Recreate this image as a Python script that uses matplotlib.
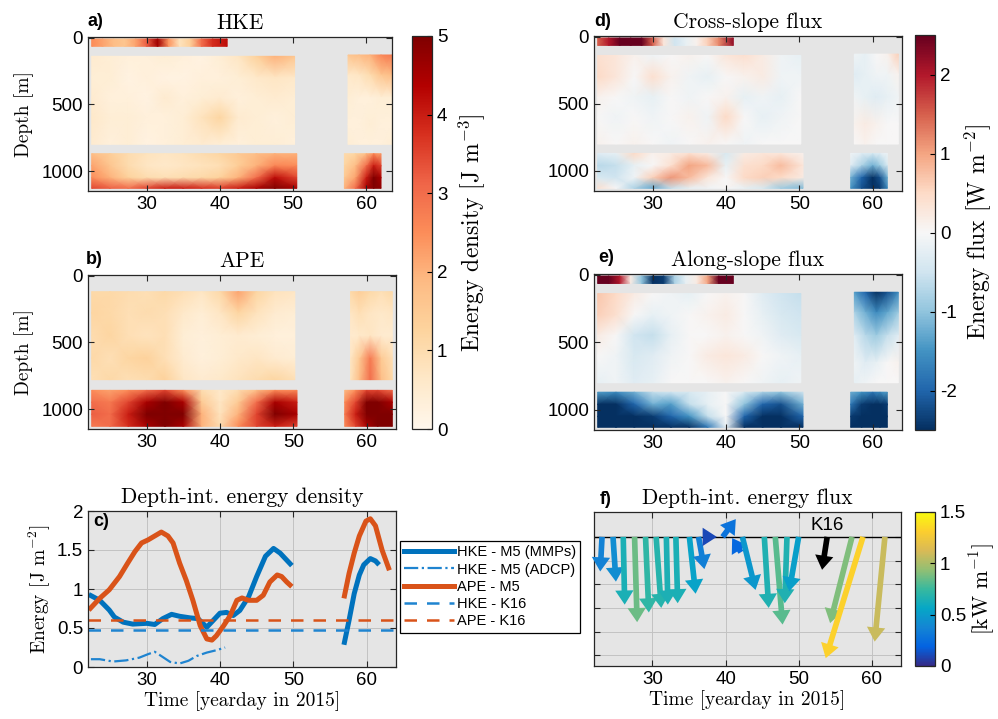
import numpy as np
import matplotlib
matplotlib.use('Agg')
import matplotlib.pyplot as plt
from matplotlib.colors import LinearSegmentedColormap, Normalize
from matplotlib.cm import ScalarMappable
from matplotlib.lines import Line2D

plt.rcParams['font.family'] = ['Liberation Sans', 'DejaVu Sans']
plt.rcParams['mathtext.fontset'] = 'cm'
plt.rcParams['axes.unicode_minus'] = False

# ---------------- sections: time / depth coordinates ----------------
t_adcp = [22.5, 24, 25.5, 27, 28.5, 30, 31.5, 33, 34.5, 36, 37.5, 39, 41]
z_adcp = [10, 65]
t_up = [22.5, 25, 27.5, 30, 32.5, 35, 37.5, 40, 42.5, 45, 47.5, 50.2]
t_lo = [22.5, 25, 27.5, 30, 32.5, 35, 37.5, 40, 42.5, 45, 47.5, 50.5]
z_up = [140, 300, 450, 600, 800]
z_lo = [870, 960, 1050, 1130]
t_up2 = [57.5, 59, 60.5, 62, 63.5]
z_up2 = [130, 280, 450, 650, 800]
t_lo2 = [57, 58.5, 60, 61, 62]
# APE sections (MMP only)
z_up_ape = [120, 280, 450, 620, 780]
z_lo_ape = [860, 950, 1040, 1130]
t_up2_ape = [57.8, 59, 60.5, 62, 63.5]
t_lo2_ape = [57, 58.5, 60, 61.5, 63.5]

# ---------------- HKE [J m-3] ----------------
hke_adcp = [2.5, 2.2, 1.8, 1.6, 2.2, 3.2, 4.6, 2.4, 0.8, 1.4, 3.0, 3.8, 4.2]
hke_up = [[0.5, 0.4, 0.3, 0.3, 0.4, 0.3, 0.2, 0.4, 0.7, 1.3, 2.0, 1.6],
          [0.4, 0.4, 0.2, 0.3, 0.2, 0.2, 0.3, 0.3, 0.4, 0.6, 0.7, 0.6],
          [0.5, 0.3, 0.3, 0.2, 0.5, 0.3, 0.4, 0.5, 0.3, 0.4, 0.5, 0.4],
          [0.6, 0.4, 0.4, 0.3, 0.3, 0.4, 0.8, 1.2, 0.5, 0.4, 0.3, 0.4],
          [0.5, 0.3, 0.4, 0.2, 0.3, 0.4, 0.5, 0.4, 0.3, 0.4, 0.4, 0.3]]
hke_lo = [[1.8, 1.4, 1.0, 0.8, 0.7, 0.8, 1.0, 1.2, 1.5, 1.8, 2.0, 2.0],
          [2.2, 1.6, 1.0, 0.7, 0.6, 0.7, 0.8, 0.9, 1.4, 2.0, 2.6, 2.5],
          [2.5, 2.0, 1.3, 1.0, 0.9, 1.0, 1.1, 1.3, 2.0, 3.0, 4.2, 3.5],
          [3.5, 3.2, 3.0, 3.5, 4.0, 4.0, 3.8, 3.6, 4.0, 4.5, 5.0, 4.5]]
hke_up2 = [[1.6, 1.8, 2.0, 2.6, 2.8],
           [0.6, 0.7, 1.0, 1.6, 1.8],
           [0.4, 0.3, 0.3, 0.4, 0.4],
           [0.3, 0.3, 0.4, 0.3, 0.3],
           [0.4, 0.3, 0.3, 0.3, 0.4]]
hke_lo2 = [[1.0, 1.2, 1.8, 2.5, 2.2],
           [1.2, 1.8, 3.0, 4.0, 3.5],
           [1.5, 2.2, 4.0, 5.0, 4.5],
           [2.0, 3.0, 4.5, 5.0, 4.8]]

# ---------------- APE [J m-3] ----------------
ape_up = [[1.1, 1.1, 1.0, 0.9, 1.1, 0.9, 0.7, 1.1, 2.2, 1.2, 0.8, 0.7],
          [1.2, 1.1, 0.9, 1.0, 0.9, 0.6, 0.4, 0.7, 1.2, 0.8, 0.5, 0.4],
          [1.0, 1.2, 0.9, 0.8, 0.9, 0.4, 0.3, 0.4, 0.5, 0.4, 0.3, 0.3],
          [1.1, 0.9, 1.2, 1.3, 0.9, 0.5, 0.3, 0.4, 0.6, 0.7, 0.5, 0.4],
          [0.9, 1.1, 0.9, 1.0, 1.3, 0.7, 0.5, 0.6, 0.8, 1.0, 1.2, 0.9]]
ape_lo = [[2.5, 2.2, 2.5, 3.0, 3.5, 2.5, 1.0, 0.6, 1.0, 1.8, 2.5, 2.5],
          [3.0, 2.8, 3.5, 4.5, 5.0, 4.5, 1.5, 0.7, 1.5, 3.0, 4.5, 4.0],
          [3.2, 3.0, 4.0, 5.0, 5.0, 5.0, 2.0, 0.8, 2.0, 3.5, 5.0, 4.5],
          [2.8, 3.0, 3.8, 4.5, 5.0, 4.5, 2.0, 1.0, 2.5, 3.5, 4.0, 3.5]]
ape_up2 = [[1.1, 1.4, 1.1, 0.9, 1.1],
           [0.7, 0.9, 0.7, 0.6, 0.7],
           [0.5, 0.6, 0.7, 0.5, 0.5],
           [0.7, 1.5, 2.8, 1.5, 0.9],
           [0.8, 1.8, 3.0, 1.8, 1.1]]
ape_lo2 = [[1.8, 2.5, 3.5, 3.5, 3.0],
           [2.5, 3.5, 5.0, 5.0, 4.5],
           [2.8, 4.0, 5.0, 5.0, 5.0],
           [2.5, 3.5, 4.5, 5.0, 5.0]]

# ---------------- cross-slope flux [W m-2] ----------------
fx_adcp = [1.5, 2.0, 2.5, 2.6, 2.5, 1.5, 0.3, -0.5, -0.2, 0.1, 0.6, 1.2, 2.2]
fx_up = [[0.4, 0.3, 0.1, -0.1, 0.0, 0.1, 0.0, 0.3, 0.4, 0.2, -0.1, -0.2],
         [0.5, 0.3, 0.0, 0.4, 0.1, -0.1, -0.2, 0.0, 0.1, 0.2, -0.1, -0.1],
         [0.1, 0.0, -0.1, -0.2, 0.0, -0.1, 0.0, 0.1, -0.2, -0.1, -0.2, 0.0],
         [0.0, -0.1, 0.0, -0.1, 0.0, 0.1, -0.1, 0.5, 0.0, -0.2, -0.1, 0.0],
         [0.1, 0.0, 0.1, 0.0, -0.1, 0.0, 0.1, 0.0, -0.1, 0.0, 0.0, 0.0]]
fx_lo = [[-0.3, -0.2, 0.5, 0.1, 0.2, 0.4, 0.2, -0.4, 0.2, 0.3, 0.3, 0.1],
         [-0.7, -0.6, -0.2, 0.0, 0.4, 1.0, 0.8, -0.2, 0.4, 0.5, 0.8, 0.3],
         [-0.4, -0.5, -0.1, 0.6, 1.1, 0.8, 0.3, 0.0, 0.5, 0.6, 0.5, 0.2],
         [0.4, 0.0, -0.8, -1.3, -0.6, -0.2, -0.1, 0.0, -0.2, -0.4, -0.9, -1.1]]
fx_up2 = [[-0.1, -0.2, 0.0, 0.1, 0.6],
          [-0.3, -0.2, -0.1, -0.1, 0.1],
          [-0.1, -0.2, -0.3, -0.2, -0.1],
          [0.1, 0.2, 0.1, 0.0, 0.0],
          [0.0, 0.1, 0.0, 0.0, 0.0]]
fx_lo2 = [[-0.1, -0.3, -0.4, -0.3, -0.1],
          [-0.3, -0.8, -1.2, -0.9, -0.4],
          [-1.2, -2.0, -2.6, -2.2, -1.2],
          [-1.5, -2.2, -2.6, -2.4, -1.6]]

# ---------------- along-slope flux [W m-2] ----------------
fy_adcp = [2.6, 2.6, 2.0, 0.2, -1.0, -2.6, -2.4, -0.8, -0.2, 0.2, 1.0, 2.6, 2.6]
fy_up = [[0.7, 0.5, 0.2, 0.0, -0.1, -0.2, 0.0, 0.1, 0.0, -0.3, -0.5, -0.6],
         [0.6, 0.4, 0.0, -0.2, -0.1, 0.0, 0.1, 0.2, 0.0, -0.2, -0.4, -0.5],
         [0.2, 0.0, -0.5, -0.6, -0.2, 0.0, 0.0, 0.1, 0.0, -0.1, -0.3, -0.4],
         [0.0, -0.1, -0.4, -0.3, -0.1, 0.0, 0.2, 0.3, 0.2, 0.0, -0.1, -0.2],
         [-0.2, -0.1, -0.3, -0.2, 0.0, 0.0, 0.0, 0.1, 0.0, -0.1, -0.2, -0.1]]
fy_lo = [[-1.4, -1.6, -1.2, -0.6, -0.5, -0.4, -0.2, 0.0, -0.4, -0.8, -1.0, -0.5],
         [-2.6, -2.6, -2.0, -1.2, -1.4, -0.6, -0.2, 0.0, -1.0, -2.0, -2.2, -1.2],
         [-2.6, -2.6, -2.6, -2.4, -2.0, -1.5, -0.6, 0.0, -2.0, -2.6, -2.6, -2.0],
         [-2.6, -2.6, -2.6, -2.6, -2.6, -2.6, -1.8, -0.2, -2.6, -2.6, -2.6, -2.6]]
fy_up2 = [[-1.4, -2.0, -2.6, -2.2, -1.6],
          [-0.8, -1.2, -1.6, -1.3, -0.9],
          [-0.3, -0.7, -0.9, -0.6, -0.3],
          [-0.1, -0.3, -0.2, 0.0, 0.1],
          [-0.2, -0.1, 0.0, 0.0, 0.0]]
fy_lo2 = [[-1.2, -1.5, -1.8, -1.6, -1.4],
          [-1.8, -2.4, -2.6, -2.6, -2.4],
          [-2.4, -2.6, -2.6, -2.6, -2.6],
          [-2.6, -2.6, -2.6, -2.6, -2.6]]

# ---------------- depth-integrated energy [J m-2] ----------------
hke_t1 = [22.1, 23.6, 24.9, 25.6, 26.8, 28.1, 30.0, 31.1, 32.2, 33.4, 34.5, 35.9, 37.0,
          38.2, 39.1, 40.0, 40.9, 41.8, 42.7, 43.9, 45.0, 46.2, 47.3, 48.2, 49.1, 49.8]
hke_e1 = [0.93, 0.855, 0.73, 0.64, 0.575, 0.55, 0.56, 0.545, 0.62, 0.675, 0.65, 0.63, 0.62,
          0.51, 0.60, 0.69, 0.70, 0.66, 0.725, 0.90, 1.16, 1.42, 1.52, 1.46, 1.37, 1.30]
hke_t2 = [56.9, 57.6, 58.3, 59.0, 59.6, 60.5, 61.2, 61.7]
hke_e2 = [0.285, 0.60, 0.94, 1.18, 1.31, 1.39, 1.36, 1.31]
ape_t1 = [22.1, 23.6, 24.9, 26.3, 27.4, 28.4, 29.3, 30.2, 31.1, 32.0, 32.9, 33.6, 34.5, 35.4,
          36.3, 37.3, 38.2, 38.9, 39.5, 40.5, 41.4, 42.3, 43.0, 43.9, 45.0, 45.9, 46.8, 47.8,
          48.4, 49.1, 49.8]
ape_e1 = [0.73, 0.88, 0.99, 1.16, 1.33, 1.48, 1.59, 1.63, 1.68, 1.73, 1.68, 1.59, 1.33, 1.11,
          0.855, 0.53, 0.36, 0.345, 0.40, 0.53, 0.66, 0.855, 0.885, 0.855, 0.855, 0.92, 1.09, 1.18,
          1.16, 1.09, 1.03]
ape_t2 = [56.9, 57.6, 58.3, 59.0, 59.9, 60.5, 61.2, 62.1, 63.1]
ape_e2 = [0.88, 1.20, 1.46, 1.68, 1.87, 1.90, 1.81, 1.50, 1.24]
adcp_t = [22.4, 23.6, 25.4, 27.2, 29.0, 30.2, 31.1, 32.0, 33.2, 34.5, 35.7, 36.8, 38.2, 39.5, 40.7]
adcp_e = [0.10, 0.10, 0.07, 0.085, 0.12, 0.165, 0.195, 0.14, 0.065, 0.045, 0.08, 0.14, 0.185, 0.215, 0.25]
hke_k16 = 0.48
ape_k16 = 0.60

# ---------------- depth-integrated flux vectors ----------------
vec_t0 = [23.1, 24.6, 26.0, 27.55, 29.05, 30.5, 31.9, 33.2, 35.05, 36.3, 38.0, 39.6, 42.1,
          42.3, 45.3, 46.8, 48.4, 50.0, 57.3, 58.8, 61.8]
vec_y0 = [0, 0, 0, 0, 0, 0, 0, 0, 0, 0, 0, 0, -0.65,
          0, 0, 0, 0, 0, 0, 0, 0]
vec_t1 = [22.85, 25.0, 26.2, 27.9, 29.5, 31.2, 32.1, 33.45, 35.9, 37.1, 38.8, 41.4, 40.9,
          44.1, 45.9, 47.8, 48.1, 48.7, 54.3, 53.7, 60.4]
vec_y1 = [-1.46, -1.89, -2.86, -3.6, -3.19, -3.0, -2.86, -2.8, -2.4, -1.36, 0.0, 0.75, -0.05,
          -2.24, -3.0, -3.7, -2.8, -2.3, -3.64, -5.12, -4.42]
vec_mag = [0.36, 0.42, 0.64, 0.86, 0.72, 0.68, 0.65, 0.64, 0.54, 0.34, 0.10, 0.28, 0.22,
           0.48, 0.66, 0.82, 0.66, 0.52, 0.90, 1.32, 1.08]
k16_t0, k16_t1, k16_y1 = 53.9, 53.2, -1.39

W, H = 998, 719
fig = plt.figure(figsize=(W / 100, H / 100), dpi=100)


def px_ax(l, t, r, b):
    return fig.add_axes([l / W, 1 - b / H, (r - l) / W, (b - t) / H])


bg = '#e5e5e5'
cmr = dict(family='cmr10')
ticks_fs = 13.5
title_fs = 15.5
label_fs = 14
cbar_fs = 17

parula = LinearSegmentedColormap.from_list('parula', [
    '#352a87', '#0363e1', '#1485d4', '#06a7c6', '#38b99e',
    '#92bf73', '#d9ba56', '#fcce2e', '#f9fb0e'])


def style_axes(ax):
    ax.set_facecolor(bg)
    ax.tick_params(direction='in', top=True, right=True, labelsize=ticks_fs,
                   length=4, width=0.8, color='#262626')
    for s in ax.spines.values():
        s.set_color('#262626')
        s.set_linewidth(0.9)


def section_panel(ax, parts, cmap, vmin, vmax, xmax):
    for t, z, v in parts:
        T, Z = np.meshgrid(t, z)
        ax.pcolormesh(T, Z, np.array(v, dtype=float), shading='gouraud',
                      cmap=cmap, vmin=vmin, vmax=vmax)
    ax.set_xlim(22, xmax)
    ax.set_ylim(1150, -5)
    ax.set_xticks([30, 40, 50, 60])
    ax.set_yticks([0, 500, 1000])
    style_axes(ax)


ax_a = px_ax(88, 37, 392, 191)
section_panel(ax_a, [(t_adcp, z_adcp, [hke_adcp, hke_adcp]), (t_up, z_up, hke_up),
                     (t_lo, z_lo, hke_lo), (t_up2, z_up2, hke_up2), (t_lo2, z_lo, hke_lo2)],
              'OrRd', 0, 5, 63.5)
ax_b = px_ax(88, 275, 396, 429)
section_panel(ax_b, [(t_up, z_up_ape, ape_up), (t_lo, z_lo_ape, ape_lo),
                     (t_up2_ape, z_up_ape, ape_up2), (t_lo2_ape, z_lo_ape, ape_lo2)],
              'OrRd', 0, 5, 64)
ax_d = px_ax(594, 36, 902, 191)
section_panel(ax_d, [(t_adcp, z_adcp, [fx_adcp, fx_adcp]), (t_up, z_up, fx_up),
                     (t_lo, z_lo, fx_lo), (t_up2, z_up2, fx_up2), (t_lo2, z_lo, fx_lo2)],
              'RdBu_r', -2.5, 2.5, 64)
ax_e = px_ax(594, 274, 902, 430)
section_panel(ax_e, [(t_adcp, z_adcp, [fy_adcp, fy_adcp]), (t_up, z_up, fy_up),
                     (t_lo, z_lo, fy_lo), (t_up2, z_up2, fy_up2), (t_lo2, z_lo, fy_lo2)],
              'RdBu_r', -2.5, 2.5, 64)

for ax, ttl in [(ax_a, 'HKE'), (ax_b, 'APE'), (ax_d, 'Cross-slope flux'),
                (ax_e, 'Along-slope flux')]:
    ax.set_title(ttl, fontsize=title_fs, pad=6, **cmr)
for ax in (ax_a, ax_b):
    ax.set_ylabel('Depth [m]', fontsize=label_fs, labelpad=5, **cmr)

# ---- panel c: depth-integrated energy
ax_c = px_ax(88, 511, 396, 667)
blue, orange, lblue = '#0072bd', '#d95319', '#1f84d0'
ax_c.plot(hke_t1, hke_e1, color=blue, lw=3.6, solid_capstyle='butt')
ax_c.plot(hke_t2, hke_e2, color=blue, lw=3.6, solid_capstyle='butt')
ax_c.plot(adcp_t, adcp_e, color=lblue, lw=1.6, ls='-.')
ax_c.plot(ape_t1, ape_e1, color=orange, lw=3.6, solid_capstyle='butt')
ax_c.plot(ape_t2, ape_e2, color=orange, lw=3.6, solid_capstyle='butt')
ax_c.axhline(hke_k16, color=lblue, lw=1.8, ls=(0, (5, 4)))
ax_c.axhline(ape_k16, color=orange, lw=1.8, ls=(0, (5, 4)))
ax_c.set_xlim(22, 64)
ax_c.set_ylim(0, 2)
ax_c.set_xticks([30, 40, 50, 60])
ax_c.set_yticks([0, 0.5, 1, 1.5, 2])
ax_c.set_yticklabels(['0', '0.5', '1', '1.5', '2'])
style_axes(ax_c)
ax_c.grid(True, color='#c2c2c2', lw=0.7)
ax_c.set_axisbelow(True)
ax_c.set_title('Depth-int. energy density', fontsize=title_fs, pad=6, **cmr)
ax_c.set_ylabel('Energy [J m$^{-2}$]', fontsize=label_fs, labelpad=3, **cmr)
ax_c.set_xlabel('Time [yearday in 2015]', fontsize=label_fs, labelpad=2, **cmr)

handles = [Line2D([], [], color=blue, lw=3.6),
           Line2D([], [], color=lblue, lw=1.6, ls='-.'),
           Line2D([], [], color=orange, lw=3.6),
           Line2D([], [], color=lblue, lw=1.8, ls=(0, (5, 4))),
           Line2D([], [], color=orange, lw=1.8, ls=(0, (5, 4)))]
labels = ['HKE - M5 (MMPs)', 'HKE - M5 (ADCP)', 'APE - M5', 'HKE - K16', 'APE - K16']
leg = ax_c.legend(handles, labels, loc='upper left', bbox_to_anchor=(400 / W, 1 - 541 / H),
                  bbox_transform=fig.transFigure, fontsize=10.5, frameon=True, fancybox=False,
                  edgecolor='black', framealpha=1, handlelength=3.4, handletextpad=0.2,
                  borderpad=0.3, labelspacing=0.22, borderaxespad=0)
leg.get_frame().set_linewidth(0.9)

# ---- panel f: depth-integrated flux vectors
ax_f = px_ax(594, 512, 901, 666)
ax_f.set_xlim(22, 64)
ax_f.set_ylim(-5.45, 1.05)
ax_f.set_xticks([30, 40, 50, 60])
ax_f.set_yticks([-5, -4, -3, -2, -1, 0])
ax_f.set_yticklabels([])
style_axes(ax_f)
ax_f.grid(True, color='#c2c2c2', lw=0.7)
ax_f.set_axisbelow(True)
ax_f.axhline(0, color='black', lw=1.0, zorder=1.5)
fnorm = Normalize(0, 1.5)
arrow_style = 'simple,head_length=0.85,head_width=1.1,tail_width=0.34'
for t0, y0, t1, y1, m in zip(vec_t0, vec_y0, vec_t1, vec_y1, vec_mag):
    ax_f.annotate('', xy=(t1, y1), xytext=(t0, y0),
                  arrowprops=dict(arrowstyle=arrow_style, mutation_scale=12,
                                  color=parula(fnorm(m)), shrinkA=0, shrinkB=0, lw=0))
ax_f.annotate('', xy=(k16_t1, k16_y1), xytext=(k16_t0, 0),
              arrowprops=dict(arrowstyle=arrow_style, mutation_scale=12, color='black',
                              shrinkA=0, shrinkB=0, lw=0))
ax_f.text(53.9, 0.5, 'K16', fontsize=13.5, ha='center', va='center')
ax_f.set_title('Depth-int. energy flux', fontsize=title_fs, pad=6, **cmr)
ax_f.set_xlabel('Time [yearday in 2015]', fontsize=label_fs, labelpad=2, **cmr)

# ---- panel letters
for x, y, s in [(88, 22, 'a)'), (86, 260, 'b)'), (93, 522, 'c)'),
                (594, 21, 'd)'), (598, 258, 'e)'), (600, 500, 'f)')]:
    fig.text(x / W, 1 - y / H, s, fontsize=13, fontweight='bold', va='center')


# ---- colorbars
def colorbar(l, t, r, b, cmap, vmin, vmax, ticks, label, pad, fs=cbar_fs):
    cax = px_ax(l, t, r, b)
    cb = fig.colorbar(ScalarMappable(Normalize(vmin, vmax), cmap), cax=cax, ticks=ticks)
    cb.outline.set_linewidth(0.9)
    cb.outline.set_edgecolor('#262626')
    cax.tick_params(direction='in', length=3.5, width=0.8, labelsize=ticks_fs)
    cb.set_label(label, fontsize=fs, labelpad=pad, **cmr)
    return cb


cb1 = colorbar(412, 36, 432, 429, 'OrRd', 0, 5, [0, 1, 2, 3, 4, 5],
               'Energy density [J m$^{-3}$]', 6)
cb2 = colorbar(915, 35, 935, 430, 'RdBu_r', -2.5, 2.5, [-2, -1, 0, 1, 2],
               'Energy flux [W m$^{-2}$]', 4)
cb3 = colorbar(915, 512, 935, 666, parula, 0, 1.5, [0, 0.5, 1, 1.5],
               '[kW m$^{-1}$]', 1, fs=15.5)
cb3.ax.set_yticklabels(['0', '0.5', '1', '1.5'])

fig.savefig('out.png', dpi=100)
